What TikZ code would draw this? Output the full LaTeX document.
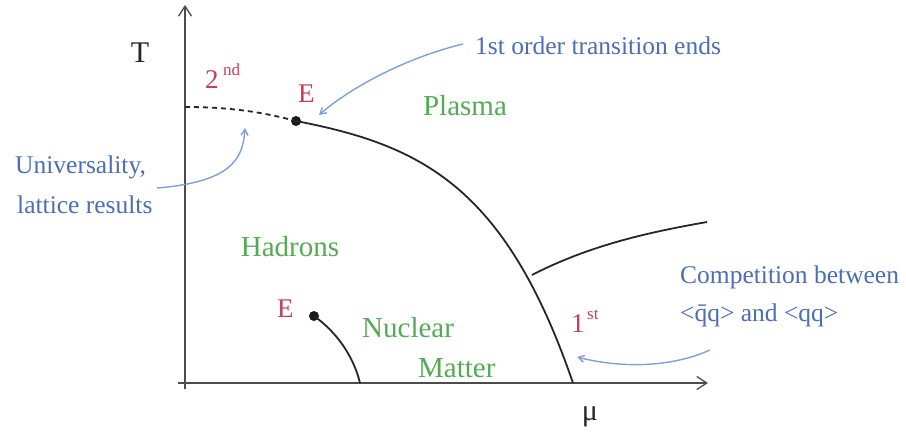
\documentclass[tikz,border=0pt]{standalone}
\usepackage{fontspec}
\setmainfont{Liberation Serif}
\usetikzlibrary{arrows.meta}
\definecolor{redl}{RGB}{200,60,85}
\definecolor{greenl}{RGB}{85,170,85}
\definecolor{bluel}{RGB}{75,110,180}
\definecolor{arrowblue}{RGB}{125,160,215}
\begin{document}
\begin{tikzpicture}[x=1pt,y=-1pt,
  axis/.style={draw=black!70, line width=1.6pt, -{Straight Barb[length=10pt,width=13pt,line width=1.3pt]}},
  phase/.style={draw=black!85, line width=1.8pt},
  note/.style={draw=arrowblue, line width=1.4pt, -{Straight Barb[length=6pt,width=7pt]}},
  greentxt/.style={text=greenl, font=\fontsize{29}{33}\selectfont, inner sep=0pt},
  bluetxt/.style={text=bluel, font=\fontsize{25.5}{29}\selectfont, inner sep=0pt},
  redtxt/.style={text=redl, font=\fontsize{27}{31}\selectfont, inner sep=0pt},
  redsup/.style={text=redl, font=\fontsize{17}{20}\selectfont, inner sep=0pt},
  axtxt/.style={text=black!85, font=\fontsize{30}{34}\selectfont, inner sep=0pt},
  dot/.style={circle, fill=black!90, inner sep=0pt, minimum size=10pt}
]
\useasboundingbox (0,0) rectangle (906,439);
% axes
\coordinate (ybot) at (185,389);
\coordinate (ytop) at (185,5);
\coordinate (xleft) at (178,383);
\coordinate (xright) at (708,383);
\draw[axis] (ybot) -- (ytop);
\draw[axis] (xleft) -- (xright);
\node[axtxt, anchor=base] (T) at (140,62) {T};
\node[axtxt, anchor=base] (mu) at (590,420) {μ};
% critical points
\node[dot] (E1) at (296,121) {};
\node[dot] (E2) at (314,316) {};
\coordinate (c2axis) at (573,383);
\coordinate (nmaxis) at (360,383);
\coordinate (dashstart) at (185,107);
\coordinate (branch) at (532,275);
\coordinate (branchend) at (707,222);
% phase lines
\draw[phase, dash pattern=on 5pt off 4pt] (dashstart) .. controls (230,107) and (262,112) .. (E1.center);
\draw[phase] (E1.center) .. controls (420,145) and (505,185) .. (c2axis);
\draw[phase] (branch) .. controls (590,245) and (650,232) .. (branchend);
\draw[phase] (E2.center) .. controls (338,333) and (354,358) .. (nmaxis);
% labels
\node[redtxt, anchor=base west] (two) at (205,88) {2};
\node[redsup, anchor=base west] (nd) at (223,75) {nd};
\node[redtxt, anchor=base west] (Etop) at (298,102) {E};
\node[redtxt, anchor=base west] (Ebot) at (277,317) {E};
\node[redtxt, anchor=base west] (one) at (571,332) {1};
\node[redsup, anchor=base west] (st) at (587,319) {st};
\node[greentxt, anchor=base] (plasma) at (465,115) {Plasma};
\node[greentxt, anchor=base] (hadrons) at (290,256) {Hadrons};
\node[greentxt, anchor=base west] (nuclear) at (362,337) {Nuclear};
\node[greentxt, anchor=base west] (matter) at (418,377) {Matter};
\node[bluetxt, anchor=base west] (ends) at (475,54) {1st order transition ends};
\node[bluetxt, anchor=base west] (univ) at (15,173) {Universality,};
\node[bluetxt, anchor=base west] (latt) at (17,213) {lattice results};
\node[bluetxt, anchor=base west] (comp) at (680,283) {Competition between};
\node[bluetxt, anchor=base west] (qq) at (680,321) {<q̄q> and <qq>};
% annotation arrows
\coordinate (endsA) at (463,44);
\coordinate (endsB) at (319,115);
\coordinate (univA) at (157,188);
\coordinate (univB) at (245,128);
\coordinate (compA) at (710,350);
\coordinate (compB) at (577,357);
\draw[note] (endsA) .. controls (405,58) and (350,88) .. (endsB);
\draw[note] (univA) .. controls (230,182) and (243,160) .. (univB);
\draw[note] (compA) .. controls (670,368) and (620,368) .. (compB);
\end{tikzpicture}
\end{document}
